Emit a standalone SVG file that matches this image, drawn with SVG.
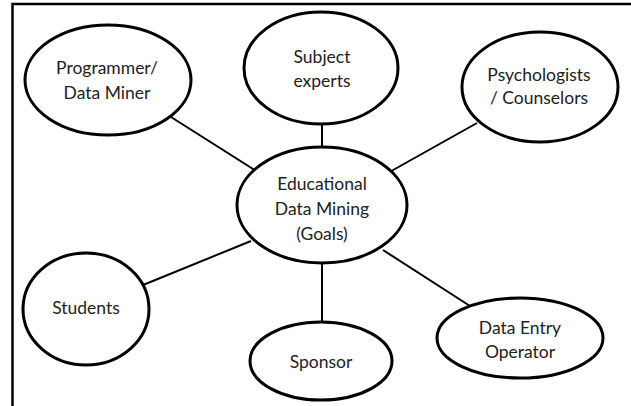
<svg xmlns="http://www.w3.org/2000/svg" width="631" height="406" viewBox="0 0 631 406">
  <style>
    .node ellipse { fill: #fff; stroke: #000; stroke-width: 3; }
    .node text { font-family: Lato, "Open Sans", sans-serif; font-size: 17.5px; fill: #222; text-anchor: middle; }
    .edges line { stroke: #000; stroke-width: 2; }
    .frame { stroke: #000; stroke-width: 2.5; fill: none; }
  </style>
  <rect width="631" height="406" fill="#fff"/>
  <!-- open frame: top and left edges -->
  <polyline class="frame" points="12.5,406 12.5,4 631,4"/>

  <g class="edges">
    <line x1="171" y1="117" x2="261" y2="174"/>
    <line x1="322" y1="122" x2="322" y2="149"/>
    <line x1="477" y1="123" x2="386" y2="174"/>
    <line x1="143" y1="285" x2="251" y2="241"/>
    <line x1="322" y1="262" x2="322" y2="323"/>
    <line x1="383" y1="250" x2="470" y2="306"/>
  </g>

  <g id="programmer" class="node">
    <ellipse cx="108" cy="80" rx="83" ry="55"/>
    <text x="107" y="74">Programmer/</text>
    <text x="107" y="99">Data Miner</text>
  </g>
  <g id="subject-experts" class="node">
    <ellipse cx="321" cy="68" rx="77" ry="56"/>
    <text x="322" y="63">Subject</text>
    <text x="322" y="87">experts</text>
  </g>
  <g id="psychologists" class="node">
    <ellipse cx="540" cy="87" rx="78" ry="55"/>
    <text x="539" y="81">Psychologists</text>
    <text x="539" y="104">/ Counselors</text>
  </g>
  <g id="edm-goals" class="node">
    <ellipse cx="322" cy="205" rx="85" ry="58"/>
    <text x="322" y="190">Educational</text>
    <text x="322" y="215">Data Mining</text>
    <text x="322" y="240">(Goals)</text>
  </g>
  <g id="students" class="node">
    <ellipse cx="86" cy="309" rx="63" ry="56"/>
    <text x="86" y="314">Students</text>
  </g>
  <g id="sponsor" class="node">
    <ellipse cx="321" cy="361" rx="71" ry="39"/>
    <text x="321" y="368">Sponsor</text>
  </g>
  <g id="data-entry" class="node">
    <ellipse cx="520" cy="338" rx="83" ry="40"/>
    <text x="520" y="334">Data Entry</text>
    <text x="520" y="358">Operator</text>
  </g>
</svg>
